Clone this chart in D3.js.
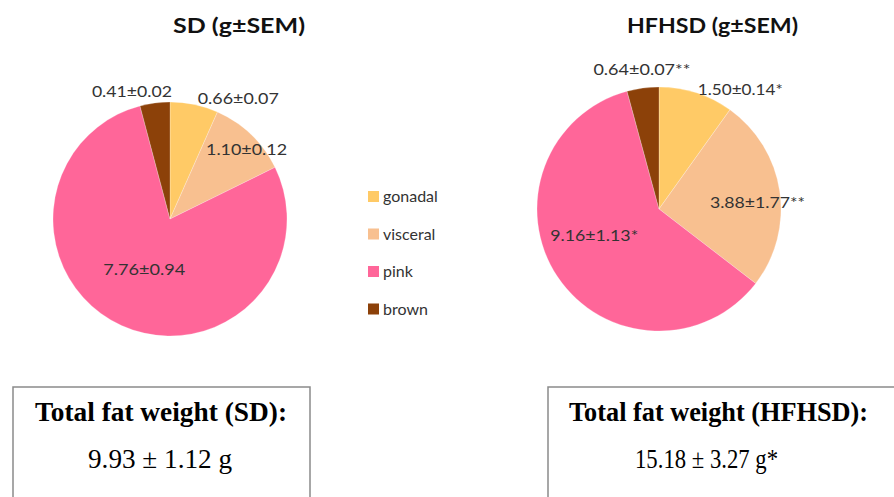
<!DOCTYPE html>
<html>
<head>
<meta charset="utf-8">
<script src="https://cdn.jsdelivr.net/npm/d3@7"></script>
<style>
  html, body { margin: 0; padding: 0; background: #fff; }
  svg { display: block; }
</style>
</head>
<body>
<script>
// data
const categories = ["gonadal", "visceral", "pink", "brown"];
const sdValues = [0.66, 1.10, 7.76, 0.41];
const sdLabels = ["0.66±0.07", "1.10±0.12", "7.76±0.94", "0.41±0.02"];
const hfValues = [1.50, 3.88, 9.16, 0.64];
const hfLabels = ["1.50±0.14*", "3.88±1.77**", "9.16±1.13*", "0.64±0.07**"];
const colors = ["#FFCA66", "#F8C090", "#FF6699", "#8C4109"];

const width = 894, height = 497;
const svg = d3.select("body").append("svg").attr("width", width).attr("height", height);

const color = d3.scaleOrdinal().domain(categories).range(colors);
const pie = d3.pie().sort(null).value((d) => d.value);

// one pie panel
const drawPie = (cfg) => {
  const data = categories.map((c, i) => ({ name: c, value: cfg.values[i], label: cfg.labels[i] }));
  const arcs = pie(data);
  const arc = d3.arc().innerRadius(0).outerRadius(cfg.r);
  const g = svg.append("g").attr("transform", `translate(${cfg.cx},${cfg.cy})`);

  g.selectAll("path")
    .data(arcs)
    .enter()
    .append("path")
    .attr("d", arc)
    .attr("fill", (d) => color(d.data.name))
    .attr("stroke", "#fff")
    .attr("stroke-opacity", 0.4)
    .attr("stroke-width", 0.6);

  // ラベル: 重心からの位置（ずらし量は見た目合わせ）
  g.selectAll("text.lbl")
    .data(arcs)
    .enter()
    .append("text")
    .attr("class", "lbl")
    .attr("text-anchor", "middle")
    .attr("font-family", "Lato, 'Open Sans', sans-serif")
    .attr("font-size", 16)
    .attr("fill", "#333")
    .attr("x", (d, i) => {
      const a = (d.startAngle + d.endAngle) / 2;
      return Math.sin(a) * cfg.r * cfg.lblR[i] + cfg.nudge[i][0];
    })
    .attr("y", (d, i) => {
      const a = (d.startAngle + d.endAngle) / 2;
      return -Math.cos(a) * cfg.r * cfg.lblR[i] + cfg.nudge[i][1];
    })
    .attr("textLength", (d, i) => cfg.lblW[i])
    .attr("lengthAdjust", "spacingAndGlyphs")
    .text((d) => d.data.label);

  svg.append("text")
    .attr("x", cfg.titleX)
    .attr("y", 33)
    .attr("font-family", "Lato, 'Open Sans', sans-serif")
    .attr("font-weight", "bold")
    .attr("font-size", 21)
    .attr("fill", "#111")
    .attr("textLength", cfg.titleW)
    .attr("lengthAdjust", "spacingAndGlyphs")
    .text(cfg.title);
};

drawPie({
  cx: 170, cy: 219, r: 117,
  values: sdValues, labels: sdLabels,
  lblR: [1.0, 0.87, 0.49, 1.0],
  nudge: [[44, -1], [6, 9], [-2, 4], [-23, -6]],
  lblW: [81, 81, 82, 80],
  title: "SD (g±SEM)", titleX: 173, titleW: 132,
});

drawPie({
  cx: 659, cy: 209, r: 122,
  values: hfValues, labels: hfLabels,
  lblR: [1.0, 0.7, 0.6, 1.0],
  nudge: [[44, 2], [14, 11], [-4, -9], [-1, -13]],
  lblW: [85, 95, 88, 97],
  title: "HFHSD (g±SEM)", titleX: 627, titleW: 171,
});

// legend
const legend = svg.append("g").attr("transform", "translate(368,191)");
const item = legend.selectAll("g")
  .data(categories)
  .enter()
  .append("g")
  .attr("transform", (d, i) => `translate(0, ${i * 37.5})`);
item.append("rect")
  .attr("width", 11)
  .attr("height", 11)
  .attr("fill", (d) => color(d));
item.append("text")
  .attr("x", 15)
  .attr("y", 11)
  .attr("font-family", "Lato, 'Open Sans', sans-serif")
  .attr("font-size", 16)
  .attr("fill", "#333")
  .text((d) => d);

// total boxes
const totals = [
  { head: "Total fat weight (SD):", val: "9.93 ± 1.12 g", x: 13, w: 297, hx: 35, hw: 252, vx: 88, vw: 144 },
  { head: "Total fat weight (HFHSD):", val: "15.18 ± 3.27 g*", x: 548, w: 360, hx: 569, hw: 299, vx: 635, vw: 143 },
];
totals.forEach((t) => {
  svg.append("rect")
    .attr("x", t.x)
    .attr("y", 387)
    .attr("width", t.w)
    .attr("height", 130)
    .attr("fill", "#fff")
    .attr("stroke", "#8a8a8a")
    .attr("stroke-width", 1.5);
  svg.append("text")
    .attr("x", t.hx)
    .attr("y", 421)
    .attr("font-family", "'Liberation Serif', 'Times New Roman', serif")
    .attr("font-weight", "bold")
    .attr("font-size", 27)
    .attr("fill", "#000")
    .attr("textLength", t.hw)
    .attr("lengthAdjust", "spacingAndGlyphs")
    .text(t.head);
  svg.append("text")
    .attr("x", t.vx)
    .attr("y", 468)
    .attr("font-family", "'Liberation Serif', 'Times New Roman', serif")
    .attr("font-size", 27)
    .attr("fill", "#000")
    .attr("textLength", t.vw)
    .attr("lengthAdjust", "spacingAndGlyphs")
    .text(t.val);
});
</script>
</body>
</html>
